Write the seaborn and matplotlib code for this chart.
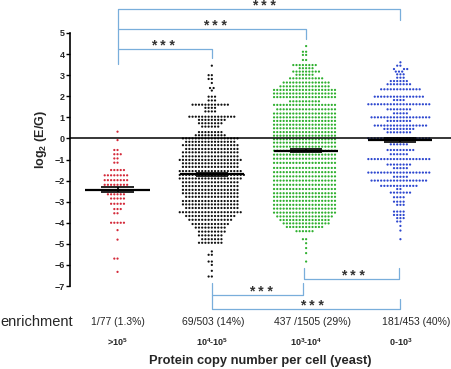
import numpy as np
import pandas as pd
import matplotlib
matplotlib.use('Agg')
import matplotlib.pyplot as plt
import seaborn as sns

sns.set_style('ticks')
plt.rcParams['font.family'] = ['Liberation Sans', 'DejaVu Sans']
plt.rcParams['mathtext.fontset'] = 'custom'
plt.rcParams['mathtext.rm'] = 'Liberation Sans'
plt.rcParams['mathtext.bf'] = 'Liberation Sans:bold'

# groups (protein copy number per cell)
group_keys = ['g1', 'g2', 'g3', 'g4']
tick_labels = [r'>10$^\mathbf{5}$', r'10$^\mathbf{4}$-10$^\mathbf{5}$',
               r'10$^\mathbf{3}$-10$^\mathbf{4}$', r'0-10$^\mathbf{3}$']
enrich_labels = ['1/77 (1.3%)', '69/503 (14%)', '437 /1505 (29%)', '181/453 (40%)']
colors = ['#d42a3a', '#111111', '#2fb02f', '#2d47cf']

# log2(E/G) values, as (row value, number of dots in that row)
red_vals = [0.32, -0.08, -0.55, -0.75, -0.95, -1.15, -1.5, -1.75, -1.98, -2.2, -2.45, -2.65,
            -2.85, -3.1, -3.35, -3.55, -4.0, -4.35, -4.8, -5.7, -6.33]
red_cnt = [1, 1, 2, 3, 2, 2, 5, 8, 8, 8, 8, 6, 5, 5, 3, 2, 5, 1, 1, 2, 1]

black_vals = [3.45, 3.0, 2.82, 2.63, 2.39, 2.27, 1.98, 1.8, 1.6, 1.45, 1.28, 1.03, 0.88, 0.72,
              0.56, 0.3, 0.15, 0.0, -0.16, -0.32, -0.5, -0.66, -0.85, -1.02, -1.18, -1.35,
              -1.55, -1.73, -1.9, -2.08, -2.26, -2.44, -2.6, -2.77, -2.97, -3.13, -3.3, -3.5,
              -3.68, -3.86, -4.06, -4.23, -4.42, -4.6, -4.78, -4.95, -5.36, -5.52, -5.84, -6.0,
              -6.28, -6.55]
black_cnt = [1, 2, 2, 1, 2, 1, 3, 3, 12, 4, 4, 15, 9, 8, 6, 8, 10, 18, 16, 18, 17, 18, 18, 20,
             18, 18, 20, 21, 20, 18, 18, 18, 18, 17, 18, 18, 17, 20, 16, 14, 12, 10, 9, 8, 7, 8,
             1, 2, 2, 1, 1, 2]

green_vals = [4.38, 4.11, 3.96, 3.72, 3.48, 3.33, 3.17, 3.02, 2.85, 2.65, 2.47, 2.3, 2.13, 1.96,
              1.76, 1.59, 1.38, 1.18, 1.0, 0.83, 0.65, 0.48, 0.3, 0.13, -0.04, -0.2, -0.39,
              -0.58, -0.77, -0.96, -1.16, -1.4, -1.6, -1.8, -2.0, -2.2, -2.4, -2.6, -2.77, -2.96,
              -3.15, -3.33, -3.52, -3.7, -3.87, -4.03, -4.2, -4.4, -4.78, -4.97, -5.2, -5.44, -5.84]
green_cnt = [1, 2, 2, 2, 8, 5, 9, 6, 11, 15, 16, 20, 20, 20, 10, 20, 19, 20, 20, 20, 20, 20, 20,
             20, 20, 20, 20, 20, 20, 20, 20, 20, 20, 20, 20, 20, 20, 20, 20, 20, 20, 20, 20, 18,
             16, 15, 12, 6, 2, 1, 1, 1, 1]

blue_vals = [3.61, 3.45, 3.29, 3.17, 3.04, 2.88, 2.72, 2.57, 2.33, 1.98, 1.82, 1.62, 1.38,
             1.19, 1.0, 0.83, 0.61, 0.45, 0.29, 0.0, -0.28, -0.55, -0.75, -0.98, -1.24, -1.41,
             -1.62, -1.82, -2.0, -2.25, -2.4, -2.57, -2.79, -3.0, -3.15, -3.47, -3.63, -3.78,
             -3.94, -4.15, -4.37, -4.78]
blue_cnt = [1, 2, 3, 3, 3, 3, 6, 8, 13, 16, 4, 20, 8, 5, 19, 8, 17, 10, 8, 20, 6, 9, 6, 20,
            8, 5, 20, 5, 18, 12, 2, 7, 4, 4, 3, 4, 4, 3, 2, 1, 1, 1]

all_vals = [red_vals, black_vals, green_vals, blue_vals]
all_cnt = [red_cnt, black_cnt, green_cnt, blue_cnt]

frames = []
for key, v, c in zip(group_keys, all_vals, all_cnt):
    frames.append(pd.DataFrame({'group': key, 'log2': np.repeat(v, c)}))
df = pd.concat(frames, ignore_index=True)

fig = plt.figure(figsize=(4.52, 3.69), dpi=100)
ax = fig.add_axes([70 / 452, 83 / 369, 382 / 452, 253 / 369])

ax.axhline(0, color='black', lw=1.1, zorder=3)

sns.swarmplot(data=df, x='group', y='log2', hue='group', order=group_keys,
              palette=dict(zip(group_keys, colors)), size=1.6, linewidth=0.6,
              edgecolor='none', legend=False, warn_thresh=1, ax=ax, zorder=2)

# mean +/- SEM
for i, key in enumerate(group_keys):
    v = df.loc[df['group'] == key, 'log2']
    m = v.mean()
    sem = v.std() / np.sqrt(len(v))
    ax.hlines(m, i - 0.34, i + 0.34, color='black', lw=1.6, zorder=5)
    ax.hlines([m - sem, m + sem], i - 0.17, i + 0.17, color='black', lw=1.2, zorder=5)
    ax.vlines(i, m - sem, m + sem, color='black', lw=1.2, zorder=5)

ax.set_xlim(-0.504, 3.547)
ax.set_ylim(-7, 5)
ax.set_yticks(range(-7, 6))
ax.tick_params(axis='y', length=3, width=1, pad=0.8, labelsize=6.5, color='black')
for t in ax.get_yticklabels():
    t.set_fontweight('bold')
ax.set_xticks(range(4))
ax.set_xticklabels(tick_labels, fontweight='bold', fontsize=6.5)
ax.tick_params(axis='x', length=0, pad=36)

for s in ['top', 'right', 'bottom']:
    ax.spines[s].set_visible(False)
ax.spines['left'].set_bounds(-7, 5)
ax.spines['left'].set_linewidth(1.2)
ax.spines['left'].set_color('black')

ax.set_ylabel(r'log$_\mathbf{2}$ (E/G)', fontsize=9, fontweight='bold')
ax.yaxis.set_label_coords(-0.055, 0.58)
ax.set_xlabel('Protein copy number per cell (yeast)', fontsize=9.3, fontweight='bold')
ax.xaxis.set_label_coords(0.499, -0.272)

# significance brackets
bcol = '#79aedb'
star_kw = dict(ha='center', va='baseline', fontsize=10, fontweight='bold', color='#333333',
               clip_on=False)


def bracket(x1, x2, y, y1_end, y2_end, star_x):
    ax.plot([x1, x1, x2, x2], [y1_end, y, y, y2_end], color=bcol, lw=0.9,
            clip_on=False, zorder=1)
    ax.text(star_x, y - 0.05, '* * *', **star_kw)


bracket(0, 3, 6.14, 3.53, 5.62, 1.55)
bracket(0, 2, 5.19, 5.19, 4.71, 1.03)
bracket(0, 1, 4.24, 4.24, 3.81, 0.48)
bracket(1, 1.97, -7.42, -6.85, -6.85, 1.52)
bracket(1.98, 2.99, -6.66, -6.14, -6.14, 2.5)
bracket(1, 3, -8.08, -7.42, -7.61, 2.06)

# enrichment row
fig.text(0.0, 1 - 322 / 369, 'enrichment', fontsize=10.5, va='center', ha='left')
for x, lab in zip([0.0, 1.01, 2.07, 3.17], enrich_labels):
    ax.text(x, -8.70, lab, fontsize=7.5, ha='center', va='center', clip_on=False)

fig.savefig('out.png', dpi=100)
